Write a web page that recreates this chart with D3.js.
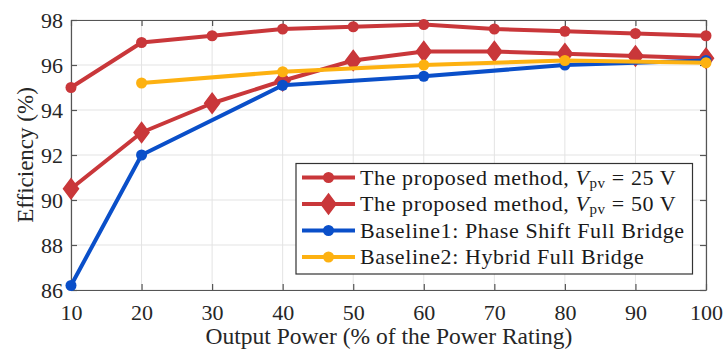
<!DOCTYPE html>
<html><head><meta charset="utf-8">
<script src="https://cdn.jsdelivr.net/npm/d3@7/dist/d3.min.js"></script>
<style>body{margin:0;background:#fff}svg{display:block}</style>
</head><body><svg id="c" width="724" height="352"></svg>
<script>
const xTicks = [10,20,30,40,50,60,70,80,90,100];
const yTicks = [86,88,90,92,94,96,98];
const red25X = [10,20,30,40,50,60,70,80,90,100];
const red25Y = [95.0,97.0,97.3,97.6,97.7,97.8,97.6,97.5,97.4,97.3];
const red50X = [10,20,30,40,50,60,70,80,90,100];
const red50Y = [90.5,93.0,94.3,95.3,96.2,96.6,96.6,96.5,96.4,96.3];
const blueX = [10,20,40,60,80,100];
const blueY = [86.2,92.0,95.1,95.5,96.0,96.2];
const yellowX = [20,40,60,80,100];
const yellowY = [95.2,95.7,96.0,96.2,96.1];
const labels = ["The proposed method, ", "The proposed method, ", "Baseline1: Phase Shift Full Bridge", "Baseline2: Hybrid Full Bridge"];

const svg = d3.select("#c");
const L=71,T=20,R=706,B=290;
const x = d3.scaleLinear().domain([10,100]).range([L,R]);
const y = d3.scaleLinear().domain([86,98]).range([B,T]);
const serif = "'Liberation Serif', 'Times New Roman', serif";

// grid
svg.append("g").selectAll("line").data(xTicks).join("line")
  .attr("x1",d=>x(d)).attr("x2",d=>x(d)).attr("y1",T).attr("y2",B)
  .attr("stroke","#e3e3e3").attr("stroke-width",1);
svg.append("g").selectAll("line").data(yTicks).join("line")
  .attr("y1",d=>y(d)).attr("y2",d=>y(d)).attr("x1",L).attr("x2",R)
  .attr("stroke","#e3e3e3").attr("stroke-width",1);

// axes
const ax = svg.append("g").attr("transform",`translate(0,${B})`).call(d3.axisBottom(x).tickValues(xTicks).tickSizeInner(-6).tickSizeOuter(0).tickPadding(14));
const ay = svg.append("g").attr("transform",`translate(${L},0)`).call(d3.axisLeft(y).tickValues(yTicks).tickSizeInner(-6).tickSizeOuter(0).tickPadding(8));
const at = svg.append("g").attr("transform",`translate(0,${T})`).call(d3.axisTop(x).tickValues(xTicks).tickSizeInner(-6).tickSizeOuter(0).tickFormat(""));
const ar = svg.append("g").attr("transform",`translate(${R},0)`).call(d3.axisRight(y).tickValues(yTicks).tickSizeInner(-6).tickSizeOuter(0).tickFormat(""));
[ax,ay,at,ar].forEach(g=>{
  g.attr("font-family",null).attr("font-size",null);
  g.select(".domain").attr("stroke","#555").attr("stroke-width",1.2);
  g.selectAll(".tick line").attr("stroke","#555").attr("stroke-width",1.2);
  g.selectAll("text").style("font-family",serif).style("font-size","22px").attr("fill","#262626");
});

// series
const series = [
  {xs:red25X, ys:red25Y, color:"#c9373a", marker:"circle"},
  {xs:red50X, ys:red50Y, color:"#c9373a", marker:"diamond"},
  {xs:blueX, ys:blueY, color:"#0a4fc9", marker:"circle"},
  {xs:yellowX, ys:yellowY, color:"#fdb111", marker:"circle"}
];
const line = d3.line().x(d=>x(d[0])).y(d=>y(d[1]));
function drawMarker(g, cx, cy, s, color){
  if(s.marker==="circle"){
    g.append("circle").attr("cx",cx).attr("cy",cy).attr("r",5.5).attr("fill",color);
  } else {
    g.append("path").attr("d",`M${cx},${cy-10}L${cx+7.5},${cy}L${cx},${cy+10}L${cx-7.5},${cy}Z`)
      .attr("fill",color).attr("stroke",color).attr("stroke-width",1.5);
  }
}
series.forEach(s=>{
  const pts = s.xs.map((v,i)=>[v,s.ys[i]]);
  const g = svg.append("g");
  g.append("path").datum(pts).attr("d",line).attr("fill","none")
    .attr("stroke",s.color).attr("stroke-width",4).attr("stroke-linejoin","round");
  pts.forEach(p=>drawMarker(g,x(p[0]),y(p[1]),s,s.color));
});

// legend
const lg = svg.append("g");
lg.append("rect").attr("x",296).attr("y",163.5).attr("width",396.5).attr("height",110.5)
  .attr("fill","#fff").attr("stroke","#333").attr("stroke-width",1.2);
const rowY = [177.5,204,230.5,257];
series.forEach((s,i)=>{
  lg.append("line").attr("x1",302).attr("x2",355).attr("y1",rowY[i]).attr("y2",rowY[i])
    .attr("stroke",s.color).attr("stroke-width",4);
  drawMarker(lg,328.5,rowY[i],s,s.color);
  const t = lg.append("text").attr("x",360).attr("y",rowY[i]+7)
    .style("font-family",serif).style("font-size","22px").style("letter-spacing","0.6px").attr("fill","#1a1a1a");
  t.append("tspan").text(labels[i]);
  if(i<2){
    t.append("tspan").style("font-style","italic").text("V");
    t.append("tspan").style("font-size","15px").attr("dy",3).text("pv");
    t.append("tspan").attr("dy",-3).text(i===0?" = 25 V":" = 50 V");
  }
});

// axis titles
svg.append("text").attr("x",389).attr("y",344).attr("text-anchor","middle")
  .style("font-family",serif).style("font-size","23.5px").attr("fill","#262626")
  .text("Output Power (% of the Power Rating)");
svg.append("text").attr("transform",`translate(33,${(T+B)/2}) rotate(-90)`).attr("text-anchor","middle")
  .style("font-family",serif).style("font-size","23px").attr("fill","#262626")
  .text("Efficiency (%)");
</script></body></html>
